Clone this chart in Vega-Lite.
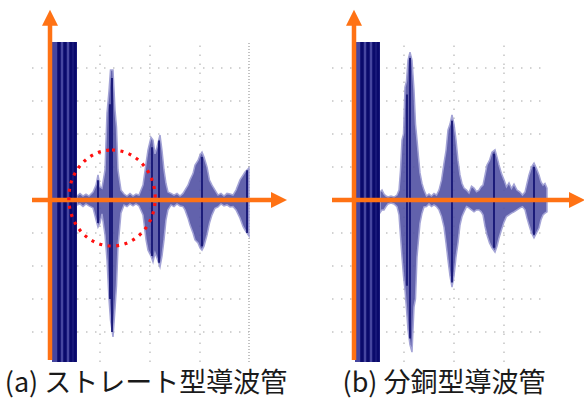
{
  "$schema": "https://vega.github.io/schema/vega-lite/v6.json",
  "padding": 0,
  "spacing": 39,
  "background": "white",
  "config": {"view": {"stroke": null}},
  "datasets": {
    "env": [
      {"p":"a","x":0.54,"hi":0.12,"lo":-0.15},{"p":"a","x":0.60,"hi":0.2,"lo":-0.12},{"p":"a","x":0.66,"hi":0.12,"lo":-0.2},{"p":"a","x":0.72,"hi":0.18,"lo":-0.12},{"p":"a","x":0.78,"hi":0.12,"lo":-0.18},{"p":"a","x":0.86,"hi":0.24,"lo":-0.24},{"p":"a","x":0.92,"hi":0.45,"lo":-0.6},{"p":"a","x":0.96,"hi":0.76,"lo":-0.82},{"p":"a","x":1.00,"hi":0.4,"lo":-0.7},{"p":"a","x":1.04,"hi":0.36,"lo":-0.42},{"p":"a","x":1.10,"hi":0.91,"lo":-1.06},{"p":"a","x":1.14,"hi":2.64,"lo":-1.82},{"p":"a","x":1.18,"hi":3.3,"lo":-3.0},{"p":"a","x":1.21,"hi":3.94,"lo":-3.64},{"p":"a","x":1.26,"hi":3.94,"lo":-4.15},{"p":"a","x":1.30,"hi":2.73,"lo":-3.3},{"p":"a","x":1.33,"hi":2.2,"lo":-2.6},{"p":"a","x":1.36,"hi":0.91,"lo":-1.42},{"p":"a","x":1.42,"hi":0.30,"lo":-0.39},{"p":"a","x":1.48,"hi":0.18,"lo":-0.15},{"p":"a","x":1.54,"hi":0.12,"lo":-0.2},{"p":"a","x":1.60,"hi":0.2,"lo":-0.12},{"p":"a","x":1.66,"hi":0.12,"lo":-0.18},{"p":"a","x":1.72,"hi":0.18,"lo":-0.12},{"p":"a","x":1.78,"hi":0.15,"lo":-0.18},{"p":"a","x":1.86,"hi":0.45,"lo":-0.45},{"p":"a","x":1.92,"hi":1.1,"lo":-1.2},{"p":"a","x":1.96,"hi":1.52,"lo":-1.52},{"p":"a","x":2.02,"hi":1.9,"lo":-1.7},{"p":"a","x":2.06,"hi":1.82,"lo":-1.88},{"p":"a","x":2.10,"hi":1.4,"lo":-1.6},{"p":"a","x":2.14,"hi":1.6,"lo":-1.76},{"p":"a","x":2.20,"hi":1.97,"lo":-2.03},{"p":"a","x":2.24,"hi":1.5,"lo":-1.7},{"p":"a","x":2.28,"hi":0.91,"lo":-1.21},{"p":"a","x":2.32,"hi":0.5,"lo":-0.6},{"p":"a","x":2.36,"hi":0.24,"lo":-0.30},{"p":"a","x":2.42,"hi":0.2,"lo":-0.15},{"p":"a","x":2.48,"hi":0.15,"lo":-0.2},{"p":"a","x":2.54,"hi":0.2,"lo":-0.12},{"p":"a","x":2.60,"hi":0.12,"lo":-0.18},{"p":"a","x":2.66,"hi":0.2,"lo":-0.2},{"p":"a","x":2.70,"hi":0.30,"lo":-0.30},{"p":"a","x":2.76,"hi":0.45,"lo":-0.55},{"p":"a","x":2.80,"hi":0.61,"lo":-0.76},{"p":"a","x":2.86,"hi":0.8,"lo":-1.0},{"p":"a","x":2.90,"hi":1.06,"lo":-1.21},{"p":"a","x":2.96,"hi":1.2,"lo":-1.3},{"p":"a","x":3.00,"hi":1.36,"lo":-1.45},{"p":"a","x":3.04,"hi":1.45,"lo":-1.52},{"p":"a","x":3.08,"hi":1.3,"lo":-1.4},{"p":"a","x":3.14,"hi":1.0,"lo":-1.06},{"p":"a","x":3.19,"hi":0.6,"lo":-0.7},{"p":"a","x":3.24,"hi":0.45,"lo":-0.45},{"p":"a","x":3.30,"hi":0.3,"lo":-0.25},{"p":"a","x":3.36,"hi":0.15,"lo":-0.21},{"p":"a","x":3.42,"hi":0.2,"lo":-0.12},{"p":"a","x":3.48,"hi":0.12,"lo":-0.18},{"p":"a","x":3.54,"hi":0.2,"lo":-0.15},{"p":"a","x":3.60,"hi":0.18,"lo":-0.21},{"p":"a","x":3.66,"hi":0.15,"lo":-0.2},{"p":"a","x":3.72,"hi":0.3,"lo":-0.3},{"p":"a","x":3.80,"hi":0.61,"lo":-0.55},{"p":"a","x":3.86,"hi":0.75,"lo":-0.8},{"p":"a","x":3.90,"hi":0.85,"lo":-0.91},{"p":"a","x":3.98,"hi":0.97,"lo":-1.09},
      {"p":"b","x":0.52,"hi":0.24,"lo":-0.39},{"p":"b","x":0.56,"hi":0.3,"lo":-0.3},{"p":"b","x":0.60,"hi":0.18,"lo":-0.30},{"p":"b","x":0.64,"hi":0.12,"lo":-0.2},{"p":"b","x":0.68,"hi":0.09,"lo":-0.12},{"p":"b","x":0.74,"hi":0.12,"lo":-0.09},{"p":"b","x":0.80,"hi":0.09,"lo":-0.12},{"p":"b","x":0.86,"hi":0.15,"lo":-0.2},{"p":"b","x":0.90,"hi":0.30,"lo":-0.45},{"p":"b","x":0.93,"hi":0.9,"lo":-1.1},{"p":"b","x":0.96,"hi":1.82,"lo":-1.73},{"p":"b","x":0.99,"hi":2.0,"lo":-2.3},{"p":"b","x":1.02,"hi":3.42,"lo":-2.73},{"p":"b","x":1.05,"hi":3.6,"lo":-3.3},{"p":"b","x":1.08,"hi":4.24,"lo":-3.94},{"p":"b","x":1.12,"hi":4.48,"lo":-4.39},{"p":"b","x":1.16,"hi":4.24,"lo":-4.61},{"p":"b","x":1.20,"hi":3.33,"lo":-3.24},{"p":"b","x":1.23,"hi":2.3,"lo":-3.0},{"p":"b","x":1.26,"hi":1.82,"lo":-1.73},{"p":"b","x":1.29,"hi":1.3,"lo":-1.2},{"p":"b","x":1.32,"hi":0.82,"lo":-0.70},{"p":"b","x":1.36,"hi":0.5,"lo":-0.4},{"p":"b","x":1.40,"hi":0.30,"lo":-0.21},{"p":"b","x":1.45,"hi":0.12,"lo":-0.2},{"p":"b","x":1.50,"hi":0.18,"lo":-0.12},{"p":"b","x":1.55,"hi":0.12,"lo":-0.2},{"p":"b","x":1.60,"hi":0.2,"lo":-0.15},{"p":"b","x":1.65,"hi":0.15,"lo":-0.2},{"p":"b","x":1.70,"hi":0.30,"lo":-0.30},{"p":"b","x":1.75,"hi":0.6,"lo":-0.5},{"p":"b","x":1.80,"hi":1.12,"lo":-0.82},{"p":"b","x":1.84,"hi":1.5,"lo":-1.3},{"p":"b","x":1.88,"hi":2.12,"lo":-1.82},{"p":"b","x":1.92,"hi":2.3,"lo":-2.3},{"p":"b","x":1.96,"hi":2.58,"lo":-2.64},{"p":"b","x":2.00,"hi":2.3,"lo":-2.3},{"p":"b","x":2.04,"hi":1.82,"lo":-1.73},{"p":"b","x":2.08,"hi":1.2,"lo":-1.3},{"p":"b","x":2.12,"hi":0.76,"lo":-0.76},{"p":"b","x":2.16,"hi":0.5,"lo":-0.5},{"p":"b","x":2.20,"hi":0.36,"lo":-0.36},{"p":"b","x":2.25,"hi":0.3,"lo":-0.2},{"p":"b","x":2.30,"hi":0.21,"lo":-0.24},{"p":"b","x":2.35,"hi":0.42,"lo":-0.3},{"p":"b","x":2.40,"hi":0.36,"lo":-0.36},{"p":"b","x":2.45,"hi":0.25,"lo":-0.3},{"p":"b","x":2.50,"hi":0.30,"lo":-0.30},{"p":"b","x":2.54,"hi":0.4,"lo":-0.35},{"p":"b","x":2.58,"hi":0.45,"lo":-0.45},{"p":"b","x":2.62,"hi":0.75,"lo":-0.8},{"p":"b","x":2.66,"hi":1.06,"lo":-1.06},{"p":"b","x":2.71,"hi":1.2,"lo":-1.3},{"p":"b","x":2.76,"hi":1.45,"lo":-1.45},{"p":"b","x":2.82,"hi":1.52,"lo":-1.58},{"p":"b","x":2.86,"hi":1.3,"lo":-1.4},{"p":"b","x":2.90,"hi":1.06,"lo":-1.15},{"p":"b","x":2.95,"hi":0.8,"lo":-0.9},{"p":"b","x":3.00,"hi":0.61,"lo":-0.67},{"p":"b","x":3.05,"hi":0.4,"lo":-0.5},{"p":"b","x":3.10,"hi":0.52,"lo":-0.45},{"p":"b","x":3.15,"hi":0.35,"lo":-0.4},{"p":"b","x":3.20,"hi":0.48,"lo":-0.36},{"p":"b","x":3.26,"hi":0.3,"lo":-0.3},{"p":"b","x":3.32,"hi":0.24,"lo":-0.24},{"p":"b","x":3.37,"hi":0.15,"lo":-0.2},{"p":"b","x":3.42,"hi":0.24,"lo":-0.30},{"p":"b","x":3.46,"hi":0.5,"lo":-0.55},{"p":"b","x":3.50,"hi":0.76,"lo":-0.76},{"p":"b","x":3.55,"hi":1.0,"lo":-1.0},{"p":"b","x":3.60,"hi":1.12,"lo":-1.15},{"p":"b","x":3.65,"hi":0.95,"lo":-1.0},{"p":"b","x":3.70,"hi":0.76,"lo":-0.85},{"p":"b","x":3.74,"hi":0.55,"lo":-0.6},{"p":"b","x":3.78,"hi":0.45,"lo":-0.45},{"p":"b","x":3.82,"hi":0.5,"lo":-0.4},{"p":"b","x":3.86,"hi":0.36,"lo":-0.36}
    ],
    "cores": [
      {"p":"a","x":0.96,"hi":0.6,"lo":-0.7},{"p":"a","x":1.20,"hi":2.9,"lo":-3.0},{"p":"a","x":1.24,"hi":3.7,"lo":-4.0},{"p":"a","x":2.04,"hi":1.6,"lo":-1.7},{"p":"a","x":2.18,"hi":1.8,"lo":-1.9},{"p":"a","x":3.04,"hi":1.3,"lo":-1.4},{"p":"a","x":3.94,"hi":0.9,"lo":-1.0},
      {"p":"b","x":1.06,"hi":3.2,"lo":-2.6},{"p":"b","x":1.12,"hi":4.3,"lo":-4.2},{"p":"b","x":1.96,"hi":2.4,"lo":-2.5},{"p":"b","x":2.80,"hi":1.4,"lo":-1.45},{"p":"b","x":3.60,"hi":1.0,"lo":-1.05}
    ],
    "block": [
      {"p":"a","x1":0.04,"x2":0.54,"y1":-4.91,"y2":4.79},
      {"p":"b","x1":0.02,"x2":0.52,"y1":-4.91,"y2":4.79}
    ],
    "stripes": [
      {"p":"a","x":0.18},{"p":"a","x":0.30},{"p":"a","x":0.42},{"p":"a","x":0.50},
      {"p":"b","x":0.16},{"p":"b","x":0.28},{"p":"b","x":0.40},{"p":"b","x":0.48}
    ],
    "grid": [
      {"p":"a","x1":1,"x2":1,"y1":-4.91,"y2":4.79},{"p":"a","x1":2,"x2":2,"y1":-4.91,"y2":4.79},{"p":"a","x1":3,"x2":3,"y1":-4.91,"y2":4.79},
      {"p":"a","x1":-0.36,"x2":3.98,"y1":1,"y2":1},{"p":"a","x1":-0.36,"x2":3.98,"y1":2,"y2":2},{"p":"a","x1":-0.36,"x2":3.98,"y1":3,"y2":3},{"p":"a","x1":-0.36,"x2":3.98,"y1":4,"y2":4},
      {"p":"a","x1":-0.36,"x2":3.98,"y1":-1,"y2":-1},{"p":"a","x1":-0.36,"x2":3.98,"y1":-2,"y2":-2},{"p":"a","x1":-0.36,"x2":3.98,"y1":-3,"y2":-3},{"p":"a","x1":-0.36,"x2":3.98,"y1":-4,"y2":-4},
      {"p":"b","x1":1,"x2":1,"y1":-4.91,"y2":4.79},{"p":"b","x1":2,"x2":2,"y1":-4.91,"y2":4.79},{"p":"b","x1":3,"x2":3,"y1":-4.91,"y2":4.79},
      {"p":"b","x1":-0.44,"x2":3.86,"y1":1,"y2":1},{"p":"b","x1":-0.44,"x2":3.86,"y1":2,"y2":2},{"p":"b","x1":-0.44,"x2":3.86,"y1":3,"y2":3},{"p":"b","x1":-0.44,"x2":3.86,"y1":4,"y2":4},
      {"p":"b","x1":-0.44,"x2":3.86,"y1":-1,"y2":-1},{"p":"b","x1":-0.44,"x2":3.86,"y1":-2,"y2":-2},{"p":"b","x1":-0.44,"x2":3.86,"y1":-3,"y2":-3},{"p":"b","x1":-0.44,"x2":3.86,"y1":-4,"y2":-4}
    ],
    "edge": [
      {"p":"a","x1":3.98,"x2":3.98,"y1":-4.91,"y2":4.79}
    ],
    "axes": [
      {"p":"a","x1":0,"x2":0,"y1":-4.85,"y2":5.3},{"p":"a","x1":-0.36,"x2":4.44,"y1":0,"y2":0},
      {"p":"b","x1":0,"x2":0,"y1":-4.85,"y2":5.3},{"p":"b","x1":-0.44,"x2":4.3,"y1":0,"y2":0}
    ],
    "headsUp": [{"p":"a","x":0,"y":5.52},{"p":"b","x":0,"y":5.52}],
    "headsRight": [{"p":"a","x":4.58,"y":0},{"p":"b","x":4.46,"y":0}],
    "circle": [{"p":"a","x":1.24,"y":0.06}],
    "captions": [
      {"p":"a","x":1.92,"y":-5.58,"t":"(a) ストレート型導波管"},
      {"p":"b","x":1.8,"y":-5.58,"t":"(b) 分銅型導波管"}
    ]
  },
  "hconcat": [
    {
      "width": 290, "height": 400,
      "layer": [
        {"data": {"name": "grid"}, "transform": [{"filter": "datum.p === 'a'"}], "mark": {"type": "rule", "color": "#c4c4c4", "strokeWidth": 1.5, "strokeDash": [1.5, 7.5]},
         "encoding": {"x": {"field": "x1", "type": "quantitative", "scale": {"domain": [-1, 4.8]}, "axis": null}, "x2": {"field": "x2"}, "y": {"field": "y1", "type": "quantitative", "scale": {"domain": [-6.06, 6.06]}, "axis": null}, "y2": {"field": "y2"}}},
        {"data": {"name": "edge"}, "transform": [{"filter": "datum.p === 'a'"}], "mark": {"type": "rule", "color": "#b0b0b0", "strokeWidth": 1.5, "strokeDash": [1, 2]},
         "encoding": {"x": {"field": "x1", "type": "quantitative", "scale": {"domain": [-1, 4.8]}, "axis": null}, "x2": {"field": "x2"}, "y": {"field": "y1", "type": "quantitative", "scale": {"domain": [-6.06, 6.06]}, "axis": null}, "y2": {"field": "y2"}}},
        {"data": {"name": "env"}, "transform": [{"filter": "datum.p === 'a'"}], "mark": {"type": "area", "color": "#5252a4", "opacity": 0.9, "stroke": "#9a9ad2", "strokeWidth": 1.5},
         "encoding": {"x": {"field": "x", "type": "quantitative", "scale": {"domain": [-1, 4.8]}, "axis": null}, "y": {"field": "hi", "type": "quantitative", "scale": {"domain": [-6.06, 6.06]}, "axis": null}, "y2": {"field": "lo"}}},
        {"data": {"name": "cores"}, "transform": [{"filter": "datum.p === 'a'"}], "mark": {"type": "rule", "color": "#0b0b6e", "strokeWidth": 1.6},
         "encoding": {"x": {"field": "x", "type": "quantitative", "scale": {"domain": [-1, 4.8]}, "axis": null}, "y": {"field": "hi", "type": "quantitative", "scale": {"domain": [-6.06, 6.06]}, "axis": null}, "y2": {"field": "lo"}}},
        {"data": {"name": "block"}, "transform": [{"filter": "datum.p === 'a'"}], "mark": {"type": "rect", "color": "#4646a0"},
         "encoding": {"x": {"field": "x1", "type": "quantitative", "scale": {"domain": [-1, 4.8]}, "axis": null}, "x2": {"field": "x2"}, "y": {"field": "y1", "type": "quantitative", "scale": {"domain": [-6.06, 6.06]}, "axis": null}, "y2": {"field": "y2"}}},
        {"data": {"name": "stripes"}, "transform": [{"filter": "datum.p === 'a'"}], "mark": {"type": "rule", "color": "#0a0a6c", "strokeWidth": 3.5},
         "encoding": {"x": {"field": "x", "type": "quantitative", "scale": {"domain": [-1, 4.8]}, "axis": null}, "y": {"datum": -4.91, "type": "quantitative", "scale": {"domain": [-6.06, 6.06]}, "axis": null}, "y2": {"datum": 4.79}}},
        {"data": {"name": "axes"}, "transform": [{"filter": "datum.p === 'a'"}], "mark": {"type": "rule", "color": "#ff7214", "strokeWidth": 4.5},
         "encoding": {"x": {"field": "x1", "type": "quantitative", "scale": {"domain": [-1, 4.8]}, "axis": null}, "x2": {"field": "x2"}, "y": {"field": "y1", "type": "quantitative", "scale": {"domain": [-6.06, 6.06]}, "axis": null}, "y2": {"field": "y2"}}},
        {"data": {"name": "headsUp"}, "transform": [{"filter": "datum.p === 'a'"}], "mark": {"type": "point", "shape": "M0,-1 L1,1 L-1,1 Z", "size": 256, "filled": true, "color": "#ff7214", "opacity": 1},
         "encoding": {"x": {"field": "x", "type": "quantitative", "scale": {"domain": [-1, 4.8]}, "axis": null}, "y": {"field": "y", "type": "quantitative", "scale": {"domain": [-6.06, 6.06]}, "axis": null}}},
        {"data": {"name": "headsRight"}, "transform": [{"filter": "datum.p === 'a'"}], "mark": {"type": "point", "shape": "M1,0 L-1,-1 L-1,1 Z", "size": 256, "filled": true, "color": "#ff7214", "opacity": 1},
         "encoding": {"x": {"field": "x", "type": "quantitative", "scale": {"domain": [-1, 4.8]}, "axis": null}, "y": {"field": "y", "type": "quantitative", "scale": {"domain": [-6.06, 6.06]}, "axis": null}}},
        {"data": {"name": "circle"}, "transform": [{"filter": "datum.p === 'a'"}], "mark": {"type": "point", "shape": "M0,-1 A0.9,1 0 1,1 0,1 A0.9,1 0 1,1 0,-1 Z", "size": 9216, "filled": false, "stroke": "#ff1010", "strokeWidth": 3.2, "strokeDash": [3, 5.5], "opacity": 1},
         "encoding": {"x": {"field": "x", "type": "quantitative", "scale": {"domain": [-1, 4.8]}, "axis": null}, "y": {"field": "y", "type": "quantitative", "scale": {"domain": [-6.06, 6.06]}, "axis": null}}},
        {"data": {"name": "captions"}, "transform": [{"filter": "datum.p === 'a'"}], "mark": {"type": "text", "font": "Noto Sans CJK JP", "fontSize": 27, "color": "#1a1a1a", "align": "center", "baseline": "middle"},
         "encoding": {"x": {"field": "x", "type": "quantitative", "scale": {"domain": [-1, 4.8]}, "axis": null}, "y": {"field": "y", "type": "quantitative", "scale": {"domain": [-6.06, 6.06]}, "axis": null}, "text": {"field": "t"}}}
      ]
    },
    {
      "width": 255, "height": 400,
      "layer": [
        {"data": {"name": "grid"}, "transform": [{"filter": "datum.p === 'b'"}], "mark": {"type": "rule", "color": "#c4c4c4", "strokeWidth": 1.5, "strokeDash": [1.5, 7.5]},
         "encoding": {"x": {"field": "x1", "type": "quantitative", "scale": {"domain": [-0.46, 4.64]}, "axis": null}, "x2": {"field": "x2"}, "y": {"field": "y1", "type": "quantitative", "scale": {"domain": [-6.06, 6.06]}, "axis": null}, "y2": {"field": "y2"}}},
        {"data": {"name": "env"}, "transform": [{"filter": "datum.p === 'b'"}], "mark": {"type": "area", "color": "#5252a4", "opacity": 0.9, "stroke": "#9a9ad2", "strokeWidth": 1.5},
         "encoding": {"x": {"field": "x", "type": "quantitative", "scale": {"domain": [-0.46, 4.64]}, "axis": null}, "y": {"field": "hi", "type": "quantitative", "scale": {"domain": [-6.06, 6.06]}, "axis": null}, "y2": {"field": "lo"}}},
        {"data": {"name": "cores"}, "transform": [{"filter": "datum.p === 'b'"}], "mark": {"type": "rule", "color": "#0b0b6e", "strokeWidth": 1.6},
         "encoding": {"x": {"field": "x", "type": "quantitative", "scale": {"domain": [-0.46, 4.64]}, "axis": null}, "y": {"field": "hi", "type": "quantitative", "scale": {"domain": [-6.06, 6.06]}, "axis": null}, "y2": {"field": "lo"}}},
        {"data": {"name": "block"}, "transform": [{"filter": "datum.p === 'b'"}], "mark": {"type": "rect", "color": "#4646a0"},
         "encoding": {"x": {"field": "x1", "type": "quantitative", "scale": {"domain": [-0.46, 4.64]}, "axis": null}, "x2": {"field": "x2"}, "y": {"field": "y1", "type": "quantitative", "scale": {"domain": [-6.06, 6.06]}, "axis": null}, "y2": {"field": "y2"}}},
        {"data": {"name": "stripes"}, "transform": [{"filter": "datum.p === 'b'"}], "mark": {"type": "rule", "color": "#0a0a6c", "strokeWidth": 3.5},
         "encoding": {"x": {"field": "x", "type": "quantitative", "scale": {"domain": [-0.46, 4.64]}, "axis": null}, "y": {"datum": -4.91, "type": "quantitative", "scale": {"domain": [-6.06, 6.06]}, "axis": null}, "y2": {"datum": 4.79}}},
        {"data": {"name": "axes"}, "transform": [{"filter": "datum.p === 'b'"}], "mark": {"type": "rule", "color": "#ff7214", "strokeWidth": 4.5},
         "encoding": {"x": {"field": "x1", "type": "quantitative", "scale": {"domain": [-0.46, 4.64]}, "axis": null}, "x2": {"field": "x2"}, "y": {"field": "y1", "type": "quantitative", "scale": {"domain": [-6.06, 6.06]}, "axis": null}, "y2": {"field": "y2"}}},
        {"data": {"name": "headsUp"}, "transform": [{"filter": "datum.p === 'b'"}], "mark": {"type": "point", "shape": "M0,-1 L1,1 L-1,1 Z", "size": 256, "filled": true, "color": "#ff7214", "opacity": 1},
         "encoding": {"x": {"field": "x", "type": "quantitative", "scale": {"domain": [-0.46, 4.64]}, "axis": null}, "y": {"field": "y", "type": "quantitative", "scale": {"domain": [-6.06, 6.06]}, "axis": null}}},
        {"data": {"name": "headsRight"}, "transform": [{"filter": "datum.p === 'b'"}], "mark": {"type": "point", "shape": "M1,0 L-1,-1 L-1,1 Z", "size": 256, "filled": true, "color": "#ff7214", "opacity": 1},
         "encoding": {"x": {"field": "x", "type": "quantitative", "scale": {"domain": [-0.46, 4.64]}, "axis": null}, "y": {"field": "y", "type": "quantitative", "scale": {"domain": [-6.06, 6.06]}, "axis": null}}},
        {"data": {"name": "captions"}, "transform": [{"filter": "datum.p === 'b'"}], "mark": {"type": "text", "font": "Noto Sans CJK JP", "fontSize": 27, "color": "#1a1a1a", "align": "center", "baseline": "middle"},
         "encoding": {"x": {"field": "x", "type": "quantitative", "scale": {"domain": [-0.46, 4.64]}, "axis": null}, "y": {"field": "y", "type": "quantitative", "scale": {"domain": [-6.06, 6.06]}, "axis": null}, "text": {"field": "t"}}}
      ]
    }
  ]
}
